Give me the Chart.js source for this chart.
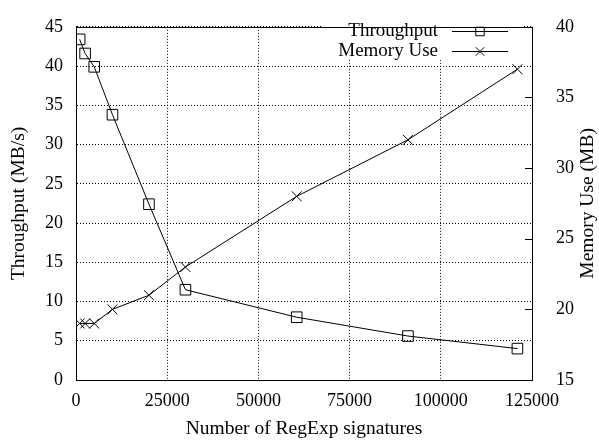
<!DOCTYPE html>
<html>
<head>
<meta charset="utf-8">
<script src="https://cdn.jsdelivr.net/npm/chart.js@4/dist/chart.umd.min.js"></script>
<style>
  html, body { margin: 0; padding: 0; background: #fff; }
  canvas { display: block; }
</style>
</head>
<body>
<canvas id="chart" width="599" height="440"></canvas>
<script>
// values
const signatures = [1000, 2500, 5000, 10000, 20000, 30000, 60500, 91000, 121000];
const throughput = [43.4, 41.6, 39.9, 33.8, 22.4, 11.5, 8.0, 5.6, 4.0];
const memoryUse = [19, 19, 19, 20, 21, 23, 28, 32, 37];

const xTicks = [0, 25000, 50000, 75000, 100000, 125000];
const leftTicks = [0, 5, 10, 15, 20, 25, 30, 35, 40, 45];
const rightTicks = [15, 20, 25, 30, 35, 40];

const FONT = "'Liberation Serif', 'Times New Roman', serif";
const tickFont = { family: FONT, size: 18 };
const titleFont = { family: FONT, size: 19.5 };
const KEY_SIZE = 19;

const toPoints = (xs, ys) => xs.map((x, i) => ({ x: x, y: ys[i] }));

// frame, inward ticks on the right axis, y2 title, gnuplot-like key
const gnuplotBits = {
  id: "gnuplotBits",
  beforeDatasetsDraw(chart) {
    const ctx = chart.ctx;
    ctx.save();
    // key box hides the grid
    ctx.fillStyle = "#fff";
    ctx.fillRect(323, 18, 522 - 323, 42);
    ctx.font = KEY_SIZE + "px " + FONT;
    ctx.textAlign = "right";
    ctx.textBaseline = "middle";
    const rows = [
      { label: "Throughput", style: "rect", r: 6, y: 31 },
      { label: "Memory Use", style: "crossRot", r: 6, y: 51 },
    ];
    rows.forEach((row) => {
      ctx.fillStyle = "#000";
      ctx.fillText(row.label, 438, row.y);
      ctx.beginPath();
      ctx.strokeStyle = "#000";
      ctx.lineWidth = 1;
      ctx.moveTo(452, row.y + 0.5);
      ctx.lineTo(508, row.y + 0.5);
      ctx.stroke();
      ctx.fillStyle = "rgba(0,0,0,0)";
      Chart.helpers.drawPoint(ctx, { pointStyle: row.style, radius: row.r, borderWidth: 1 }, 480, row.y + 0.5);
    });
    ctx.restore();
  },
  afterDraw(chart) {
    const ctx = chart.ctx;
    const a = chart.chartArea;
    const y1 = chart.scales.y1;
    ctx.save();
    ctx.strokeStyle = "#000";
    ctx.lineWidth = 1;
    ctx.setLineDash([]);
    ctx.strokeRect(Math.round(a.left) + 0.5, Math.round(a.top) + 0.5,
      Math.round(a.right - a.left), Math.round(a.bottom - a.top));
    ctx.beginPath();
    y1.ticks.forEach((t) => {
      const py = Math.round(y1.getPixelForValue(t.value)) + 0.5;
      ctx.moveTo(a.right, py);
      ctx.lineTo(a.right - 7, py);
    });
    ctx.stroke();
    // right axis title reads bottom to top like the left one
    ctx.translate(588, (a.top + a.bottom) / 2);
    ctx.rotate(-Math.PI / 2);
    ctx.font = titleFont.size + "px " + FONT;
    ctx.fillStyle = "#000";
    ctx.textAlign = "center";
    ctx.textBaseline = "middle";
    ctx.fillText("Memory Use (MB)", 0, 0);
    ctx.restore();
  },
};

const gridStyle = {
  color: "#000",
  lineWidth: 1,
  drawTicks: false,
  borderDash: [1, 2],
};
const dottedBorder = { display: true, color: "#000", dash: [1, 2] };

new Chart(document.getElementById("chart").getContext("2d"), {
  type: "scatter",
  data: {
    datasets: [
      {
        label: "Throughput",
        data: toPoints(signatures, throughput),
        yAxisID: "y",
        showLine: true,
        borderColor: "#000",
        borderWidth: 1,
        pointStyle: "rect",
        pointRadius: 7.5,
        pointBorderColor: "#000",
        pointBackgroundColor: "rgba(0,0,0,0)",
        pointBorderWidth: 1,
        tension: 0,
      },
      {
        label: "Memory Use",
        data: toPoints(signatures, memoryUse),
        yAxisID: "y1",
        showLine: true,
        borderColor: "#000",
        borderWidth: 1,
        pointStyle: "crossRot",
        pointRadius: 7,
        pointBorderColor: "#000",
        pointBorderWidth: 1,
        tension: 0,
      },
    ],
  },
  options: {
    responsive: false,
    animation: false,
    layout: { padding: { top: 15, left: 0, right: 0, bottom: 0 } },
    plugins: {
      legend: { display: false },
      tooltip: { enabled: false },
    },
    scales: {
      x: {
        type: "linear",
        min: 0,
        max: 125000,
        afterBuildTicks: (s) => { s.ticks = xTicks.map((v) => ({ value: v })); },
        afterFit: (s) => { s.height = 60; },
        grid: gridStyle,
        border: dottedBorder,
        ticks: { color: "#000", font: tickFont, padding: 10, maxRotation: 0, callback: (v) => String(v) },
        title: { display: true, text: "Number of RegExp signatures", color: "#000", font: titleFont, padding: { top: 4, bottom: -1 } },
      },
      y: {
        position: "left",
        min: 0,
        max: 45,
        afterBuildTicks: (s) => { s.ticks = leftTicks.map((v) => ({ value: v })); },
        afterFit: (s) => { s.width = 76; },
        grid: gridStyle,
        border: dottedBorder,
        ticks: { color: "#000", font: tickFont, padding: 13 },
        title: { display: true, text: "Throughput (MB/s)", color: "#000", font: titleFont, padding: { top: 7, bottom: 0 } },
      },
      y1: {
        position: "right",
        min: 15,
        max: 40,
        afterBuildTicks: (s) => { s.ticks = rightTicks.map((v) => ({ value: v })); },
        afterFit: (s) => { s.width = 67; },
        grid: { display: false },
        border: { display: false },
        ticks: { color: "#000", font: tickFont, padding: 16 },
      },
    },
  },
  plugins: [gnuplotBits],
});
</script>
</body>
</html>
